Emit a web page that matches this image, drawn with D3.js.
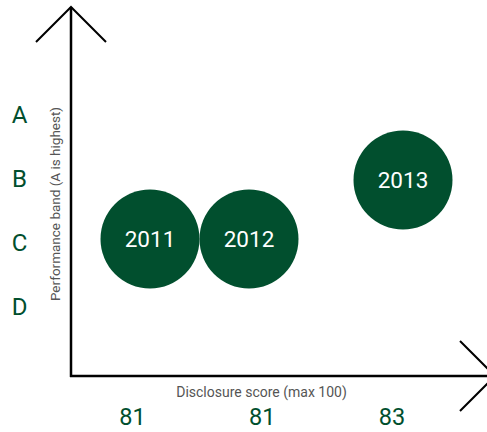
<!DOCTYPE html>
<html><head><meta charset="utf-8">
<script src="https://cdn.jsdelivr.net/npm/d3@7"></script>
<style>body{margin:0;background:#fff}svg{display:block;font-family:Roboto,sans-serif}</style>
</head><body><svg id="c" width="487" height="432"></svg>
<script>
const years = ["2011","2012","2013"];
const scores = [81, 81, 83];
const bands = ["C","C","B"];
const bandLabels = ["A","B","C","D"];
const xTitle = "Disclosure score (max 100)";
const yTitle = "Performance band (A is highest)";

const green = "#014f2e";
const svg = d3.select("#c");
const r = 49.5;

const y = d3.scalePoint().domain(bandLabels).range([114.5, 306]);
const yb = d3.scalePoint().domain(bandLabels).range([121, 298]);
const x = d3.scaleLinear().domain([81, 83]).range([199.5, 403]);
const xl = d3.scalePoint().domain(years).range([132.5, 392]);

// axes with arrows
const ax = svg.append("g").attr("stroke", "#000").attr("fill", "none");
ax.append("line").attr("x1", 71).attr("y1", 7).attr("x2", 71).attr("y2", 377).attr("stroke-width", 2.5);
ax.append("polyline").attr("points", "36,42 71,7 106,42").attr("stroke-width", 2);
ax.append("line").attr("x1", 70).attr("y1", 376).attr("x2", 495).attr("y2", 376).attr("stroke-width", 2.5);
ax.append("polyline").attr("points", "460,341 495,376 460,411").attr("stroke-width", 2);

// band labels
svg.append("g").selectAll("text").data(bandLabels).join("text")
  .attr("x", 19.5).attr("y", d => y(d)).attr("dy", "0.355em")
  .attr("text-anchor", "middle").attr("font-size", 24).attr("fill", green).text(d => d);

// titles
svg.append("text").attr("transform", "translate(60,204) rotate(-90)")
  .attr("text-anchor", "middle").attr("font-size", 13.5).attr("fill", "#555").text(yTitle);
svg.append("text").attr("x", 261.5).attr("y", 397)
  .attr("text-anchor", "middle").attr("font-size", 14).attr("fill", "#555").text(xTitle);

// score labels
svg.append("g").selectAll("text").data(years).join("text")
  .attr("x", d => xl(d)).attr("y", 425)
  .attr("text-anchor", "middle").attr("font-size", 23.5).attr("fill", green)
  .text((d, i) => scores[i]);

// bubbles, dodged where scores coincide
const data = years.map((yr, i) => ({yr, s: scores[i], b: bands[i]}));
const groups = d3.group(data, d => d.s + d.b);
groups.forEach(g => g.forEach((d, j) => { d.off = (j - (g.length - 1) / 2) * 2 * r; }));
const bub = svg.append("g").selectAll("g").data(data).join("g")
  .attr("transform", d => `translate(${x(d.s) + d.off},${yb(d.b)})`);
bub.append("circle").attr("r", r).attr("fill", green);
bub.append("text").attr("text-anchor", "middle").attr("dy", "0.355em")
  .attr("font-size", 22.5).attr("fill", "#fff").text(d => d.yr);
</script></body></html>
